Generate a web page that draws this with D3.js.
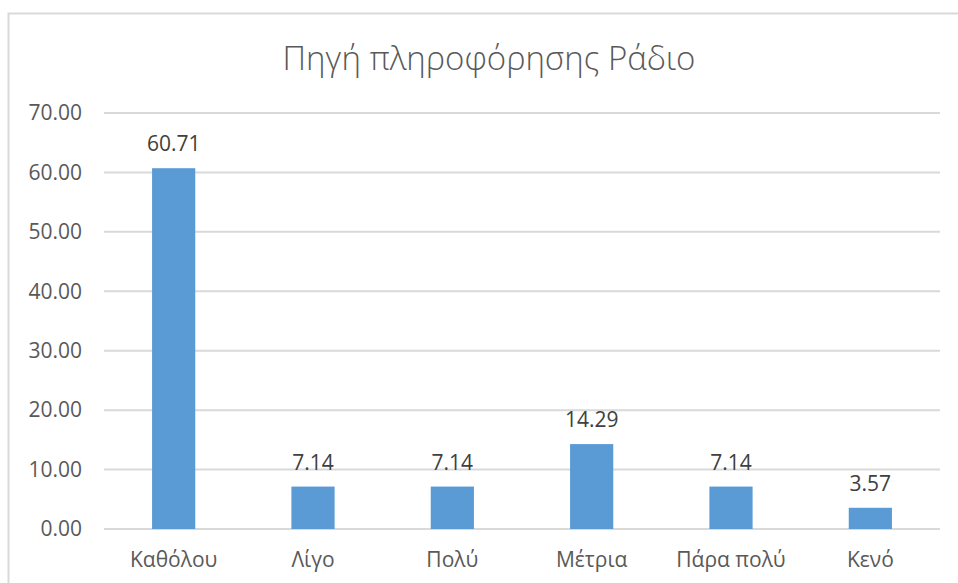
<!DOCTYPE html>
<html lang="el">
<head>
<meta charset="UTF-8">
<title>Πηγή πληροφόρησης Ράδιο</title>
<script src="https://d3js.org/d3.v7.min.js"></script>
<style>
    body { margin: 0; background: #fff; }
    svg { display: block; font-family: "Open Sans", sans-serif; }
    .axis text { fill: #595959; font-size: 21px; font-family: "Open Sans", sans-serif; }
    .axis path, .axis line { display: none; }
</style>
</head>
<body>
<svg width="958" height="583"></svg>
<script>
    // data
    const title = "Πηγή πληροφόρησης Ράδιο";
    const categories = ["Καθόλου", "Λίγο", "Πολύ", "Μέτρια", "Πάρα πολύ", "Κενό"];
    const values = [60.71, 7.14, 7.14, 14.29, 7.14, 3.57];
    const yTicks = [0, 10, 20, 30, 40, 50, 60, 70];

    const svg = d3.select("svg");
    const plotLeft = 104, plotRight = 940, plotTop = 113, plotBottom = 529;

    // chart frame (right and bottom edges run off the picture)
    svg.append("rect")
        .attr("x", 8.5).attr("y", 13.5)
        .attr("width", 1000).attr("height", 1000)
        .attr("fill", "none")
        .attr("stroke", "#d9d9d9")
        .attr("stroke-width", 2);

    svg.append("text")
        .attr("x", 489).attr("y", 70)
        .attr("text-anchor", "middle")
        .attr("fill", "#595959")
        .attr("font-size", 33)
        .attr("font-weight", 300)
        .text(title);

    let x = d3.scaleBand()
        .domain(categories)
        .range([plotLeft, plotRight])
        .paddingInner(0.69)
        .paddingOuter(0.345);

    let y = d3.scaleLinear()
        .domain([0, 70])
        .range([plotBottom, plotTop]);

    // gridlines
    svg.append("g")
        .selectAll("line")
        .data(yTicks)
        .enter()
        .append("line")
        .attr("x1", plotLeft).attr("x2", plotRight)
        .attr("y1", d => y(d)).attr("y2", d => y(d))
        .attr("stroke", "#d9d9d9")
        .attr("stroke-width", 2);

    svg.append("g")
        .attr("class", "axis")
        .attr("transform", `translate(${plotLeft - 22},0)`)
        .call(d3.axisLeft(y).tickValues(yTicks).tickFormat(d3.format(".2f")).tickSize(0).tickPadding(0));

    svg.append("g")
        .attr("class", "axis")
        .attr("transform", `translate(0,${plotBottom})`)
        .call(d3.axisBottom(x).tickSize(0).tickPadding(23));

    const data = categories.map((c, i) => ({cat: c, value: values[i]}));

    svg.append("g")
        .selectAll("rect")
        .data(data)
        .enter()
        .append("rect")
        .attr("x", d => x(d.cat))
        .attr("y", d => y(d.value))
        .attr("width", x.bandwidth())
        .attr("height", d => y(0) - y(d.value))
        .attr("fill", "#5b9bd5");

    svg.append("g")
        .selectAll("text")
        .data(data)
        .enter()
        .append("text")
        .attr("x", d => x(d.cat) + x.bandwidth() / 2)
        .attr("y", d => y(d.value) - 17)
        .attr("text-anchor", "middle")
        .attr("fill", "#404040")
        .attr("font-size", 21)
        .text(d => d3.format(".2f")(d.value));
</script>
</body>
</html>
